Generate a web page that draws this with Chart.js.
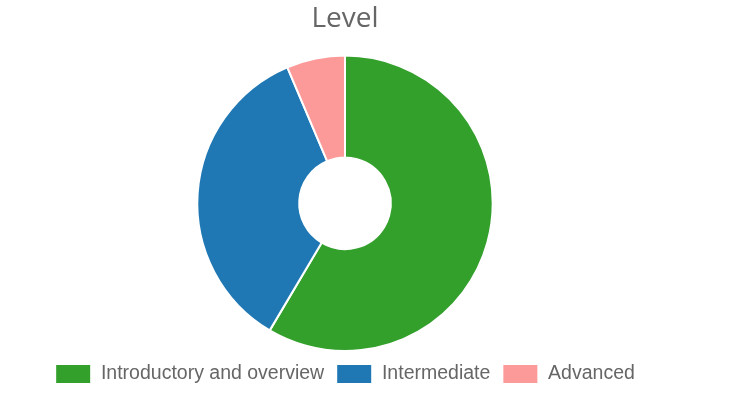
<!DOCTYPE html>
<html>
<head>
<meta charset="utf-8">
<script src="https://cdn.jsdelivr.net/npm/chart.js@4/dist/chart.umd.min.js"></script>
<style>
html,body{margin:0;padding:0;background:#fff;}
#wrap{width:732px;height:411px;position:relative;}
</style>
</head>
<body>
<div id="wrap"><canvas id="c"></canvas></div>
<script>
const categories = ["Introductory and overview", "Intermediate", "Advanced"];
const values = [55, 33, 6];
const colors = ["#33a02c", "#1f78b4", "#fb9a99"];
const titleText = "Level";

new Chart(document.getElementById('c'), {
  type: 'doughnut',
  data: {
    labels: categories,
    datasets: [{
      data: values,
      backgroundColor: colors,
      borderColor: '#ffffff',
      borderWidth: 2
    }]
  },
  options: {
    responsive: true,
    maintainAspectRatio: false,
    animation: false,
    cutout: '31%',
    layout: { padding: { left: 0, right: 42, top: 0, bottom: 17 } },
    plugins: {
      title: {
        display: true,
        text: titleText,
        color: '#666666',
        font: { family: 'Open Sans', size: 28, weight: 'normal' },
        padding: { top: 2, bottom: 19 }
      },
      legend: {
        position: 'bottom',
        labels: {
          color: '#666666',
          font: { family: 'Liberation Sans', size: 19.5 },
          boxWidth: 36,
          boxHeight: 20,
          padding: 12
        }
      },
      tooltip: { enabled: false }
    }
  }
});
</script>
</body>
</html>
